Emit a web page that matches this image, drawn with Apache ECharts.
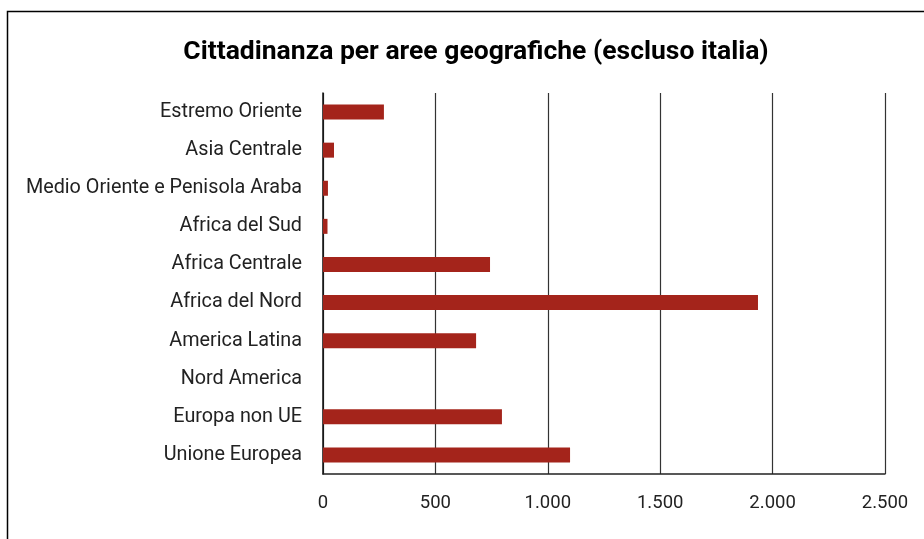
<!DOCTYPE html>
<html>
<head>
<meta charset="utf-8">
<script src="https://cdn.jsdelivr.net/npm/echarts@6/dist/echarts.min.js"></script>
<style>
  html, body { margin: 0; padding: 0; background: #fff; }
  #chart { width: 924px; height: 539px; }
</style>
</head>
<body>
<div id="chart"></div>
<script>
// categories from bottom to top (as drawn on the y axis)
const categories = [
  'Unione Europea', 'Europa non UE', 'Nord America', 'America Latina',
  'Africa del Nord', 'Africa Centrale', 'Africa del Sud',
  'Medio Oriente e Penisola Araba', 'Asia Centrale', 'Estremo Oriente'
];
const values = [1099, 796, 0, 681, 1935, 743, 20, 22, 49, 271];
const xTicks = [0, 500, 1000, 1500, 2000, 2500];

const font = "Roboto, sans-serif";

let myChart = echarts.init(document.getElementById('chart'));
let option = {
  animation: false,
  title: {
    text: 'Cittadinanza per aree geografiche (escluso italia)',
    left: 471,
    top: 34,
    textAlign: 'center',
    textStyle: {
      fontFamily: font,
      fontWeight: 'bold',
      fontSize: 26.5,
      color: '#000'
    }
  },
  graphic: [{
    type: 'rect',
    shape: { x: 7.5, y: 11.5, width: 1000, height: 1000 },
    style: { fill: 'none', stroke: '#000', lineWidth: 1.5 },
    silent: true
  }],
  grid: { left: 323, right: 39, top: 93, bottom: 65 },
  xAxis: {
    type: 'value',
    min: 0,
    max: 2500,
    interval: 500,
    axisLine: { show: true, lineStyle: { color: '#222', width: 1.5 } },
    axisTick: { show: false },
    splitLine: { show: true, lineStyle: { color: '#333', width: 1.2 } },
    axisLabel: {
      margin: 20,
      fontFamily: font,
      fontSize: 18.5,
      color: '#222',
      formatter: v => xTicks.includes(v) ? v.toLocaleString('it-IT') : ''
    }
  },
  yAxis: {
    type: 'category',
    data: categories,
    axisLine: { show: true, lineStyle: { color: '#111', width: 1.5 } },
    axisTick: { show: false },
    axisLabel: {
      margin: 21,
      fontFamily: font,
      fontSize: 19.8,
      color: '#222'
    }
  },
  series: [{
    type: 'bar',
    data: values,
    barWidth: 15,
    itemStyle: { color: '#a4241b' }
  }]
};
myChart.setOption(option);
</script>
</body>
</html>
